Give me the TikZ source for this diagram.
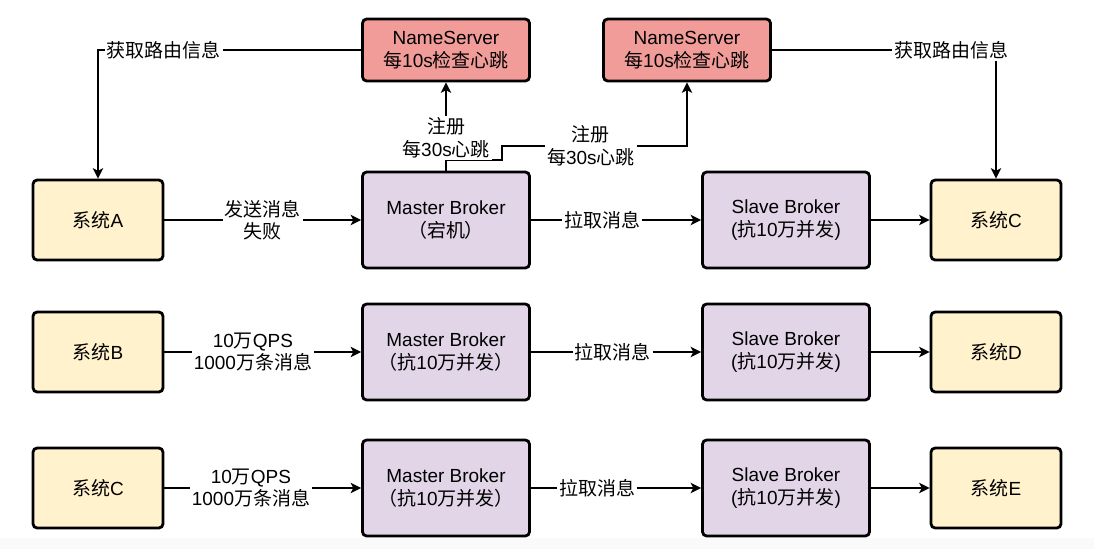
\documentclass[tikz,border=0pt]{standalone}
\usepackage{fontspec}
\setmainfont{Liberation Sans}
\newfontfamily\zhfont{Noto Sans CJK SC}
\newcommand{\zh}[1]{{\zhfont #1}}
\newcommand{\diagfont}{\fontsize{13.5}{16}\selectfont}
\usetikzlibrary{arrows.meta}
\definecolor{sysfill}{HTML}{FFF2CC}
\definecolor{brokerfill}{HTML}{E1D5E7}
\definecolor{nsfill}{HTML}{F19C99}
\tikzset{
  box/.style={draw, line width=2pt, rounded corners=3pt, align=center, font=\diagfont},
  sysbox/.style={box, fill=sysfill, minimum width=3.25cm, minimum height=2cm},
  brokerbox/.style={box, fill=brokerfill, minimum width=4.175cm, minimum height=2.4cm},
  nsbox/.style={box, fill=nsfill, minimum width=4.175cm, minimum height=1.55cm},
  link/.style={line width=0.9pt, -{Stealth[length=7.5pt, width=7.5pt, inset=2pt]}},
  lbl/.style={fill=white, inner sep=1.5pt, align=center, font=\diagfont},
}

\begin{document}
\begin{tikzpicture}[x=0.025cm, y=-0.025cm]
			%%%%% START %%%%%
			
			\useasboundingbox (0, 0) rectangle (1094, 549);
			\fill[black!2] (0, 538) rectangle (1094, 549);
			
			\node[nsbox] (nsA) at (446, 50) {NameServer\\\zh{每}10s\zh{检查心跳}};
			\node[nsbox] (nsB) at (687, 50) {NameServer\\\zh{每}10s\zh{检查心跳}};
			
			\node[sysbox] (sendA) at (98, 220) {\zh{系统}A};
			\node[brokerbox] (masterA) at (446, 220) {Master Broker\\\zh{（宕机）}};
			\node[brokerbox] (slaveA) at (786, 220) {Slave Broker\\(\zh{抗}10\zh{万并发})};
			\node[sysbox] (recvC) at (996, 220) {\zh{系统}C};
			
			\node[sysbox] (sendB) at (98, 352) {\zh{系统}B};
			\node[brokerbox] (masterB) at (446, 352) {Master Broker\\\zh{（抗}10\zh{万并发）}};
			\node[brokerbox] (slaveB) at (786, 352) {Slave Broker\\(\zh{抗}10\zh{万并发})};
			\node[sysbox] (recvD) at (996, 352) {\zh{系统}D};
			
			\node[sysbox] (sendC) at (98, 488) {\zh{系统}C};
			\node[brokerbox] (masterC) at (446, 488) {Master Broker\\\zh{（抗}10\zh{万并发）}};
			\node[brokerbox] (slaveC) at (786, 488) {Slave Broker\\(\zh{抗}10\zh{万并发})};
			\node[sysbox] (recvE) at (996, 488) {\zh{系统}E};
			
			% routing info
			\draw[link] (nsA.west) -| (sendA.north) node[lbl, pos=0.375] {\zh{获取路由信息}};
			\draw[link] (nsB.east) -| (recvC.north) node[lbl, pos=0.40] {\zh{获取路由信息}};
			
			% register + heartbeat
			\draw[link] (masterA.north) |- (502, 160) -- (502, 146) -| (nsB.south)
				node[lbl, pos=0.24] {\zh{注册}\\\zh{每}30s\zh{心跳}};
			\draw[link] (masterA.north) -- (nsA.south) node[lbl, pos=0.37] {\zh{注册}\\\zh{每}30s\zh{心跳}};
			
			% row 1
			\draw[link] (sendA) -- (masterA) node[lbl, pos=0.5] {\zh{发送消息}\\\zh{失败}};
			\draw[link] (masterA) -- (slaveA) node[lbl, pos=0.42] {\zh{拉取消息}};
			\draw[link] (slaveA) -- (recvC);
			
			% row 2
			\draw[link] (sendB) -- (masterB) node[lbl, pos=0.45] {10\zh{万}QPS\\1000\zh{万条消息}};
			\draw[link] (masterB) -- (slaveB) node[lbl, pos=0.48] {\zh{拉取消息}};
			\draw[link] (slaveB) -- (recvD);
			
			% row 3
			\draw[link] (sendC) -- (masterC) node[lbl, pos=0.44] {10\zh{万}QPS\\1000\zh{万条消息}};
			\draw[link] (masterC) -- (slaveC) node[lbl, pos=0.39] {\zh{拉取消息}};
			\draw[link] (slaveC) -- (recvE);
			
			%%%%% END %%%%%
\end{tikzpicture}
\end{document}
